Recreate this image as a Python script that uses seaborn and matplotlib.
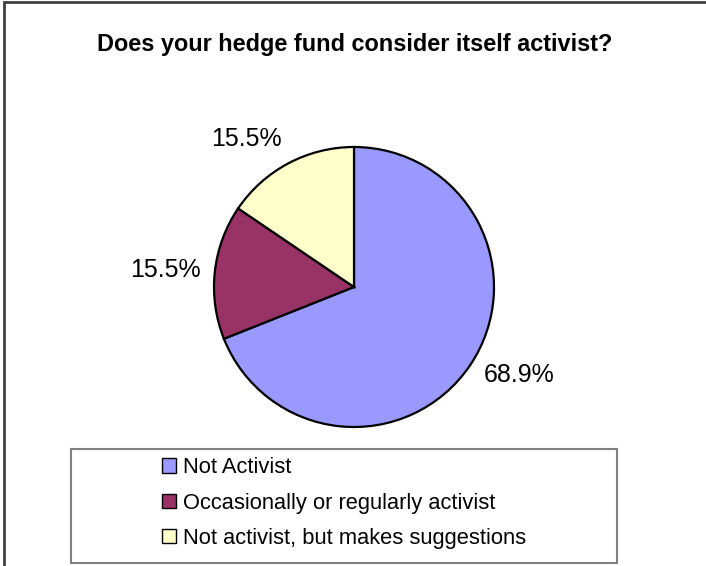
import numpy as np
import pandas as pd
import matplotlib
matplotlib.use("Agg")
import matplotlib.pyplot as plt
import matplotlib.patches as mpatches
import seaborn as sns

# ---- data ----
categories = ["Not Activist", "Occasionally or regularly activist", "Not activist, but makes suggestions"]
values = [68.9, 15.5, 15.5]
colors = ["#9999FF", "#993366", "#FFFFCC"]
title = "Does your hedge fund consider itself activist?"

df = pd.DataFrame({"category": categories, "value": values})

sns.set_theme(style="white")
plt.rcParams["font.family"] = ["Liberation Sans", "DejaVu Sans"]

W, H = 706, 566
fig = plt.figure(figsize=(W / 100, H / 100), dpi=100)
fig.patch.set_facecolor("white")

def px(v):
    return v * 72 / 100

# outer border (extends past right/bottom edge)
fig.patches.append(mpatches.Rectangle((4 / W, -0.2), 1.3, 1.2 - 1.5 / H, transform=fig.transFigure,
                                      fill=False, edgecolor="#404040", linewidth=2.0, clip_on=False))

# pie axes
cx, cy, r = 354, 287, 140
ax = fig.add_axes([(cx - r) / W, (H - cy - r) / H, 2 * r / W, 2 * r / H])
wedges, _ = ax.pie(df["value"], colors=colors, startangle=90, counterclock=False,
                   wedgeprops=dict(edgecolor="black", linewidth=1.6), radius=1.0)
ax.set_xlim(-1, 1)
ax.set_ylim(-1, 1)
ax.set_aspect("equal")
ax.axis("off")

for w, v in zip(wedges, df["value"]):
    th = np.deg2rad((w.theta1 + w.theta2) / 2)
    c, s = np.cos(th), np.sin(th)
    d = 1.1 if s > -0.3 else 1.12
    ha = "left" if c > 0.3 else ("right" if c < -0.3 else "center")
    va = "bottom" if s > 0.6 else ("top" if s < -0.6 else "center")
    ax.text(d * c, d * s, f"{v:.1f}%", ha=ha, va=va, fontsize=px(25), color="black")

fig.text(355 / W, 1 - 45 / H, title, ha="center", va="center", fontsize=px(23.5),
         fontweight="bold", color="black")

# legend frame
lx0, ly0, lx1, ly1 = 71, 449, 617, 563
fig.patches.append(mpatches.Rectangle((lx0 / W, 1 - ly1 / H), (lx1 - lx0) / W, (ly1 - ly0) / H,
                                      transform=fig.transFigure, fill=False, edgecolor="#808080",
                                      linewidth=1.5))
handles = [mpatches.Patch(facecolor=c, edgecolor="black", linewidth=1.0) for c in colors]
leg = fig.legend(handles, categories, loc="center", bbox_to_anchor=(344 / W, 1 - 503 / H),
                 frameon=False, fontsize=px(21.9), handlelength=0.64, handleheight=0.64,
                 handletextpad=0.32, labelspacing=0.65, borderpad=0)
for t in leg.get_texts():
    t.set_color("black")

fig.savefig("out.png", dpi=100, facecolor="white")
